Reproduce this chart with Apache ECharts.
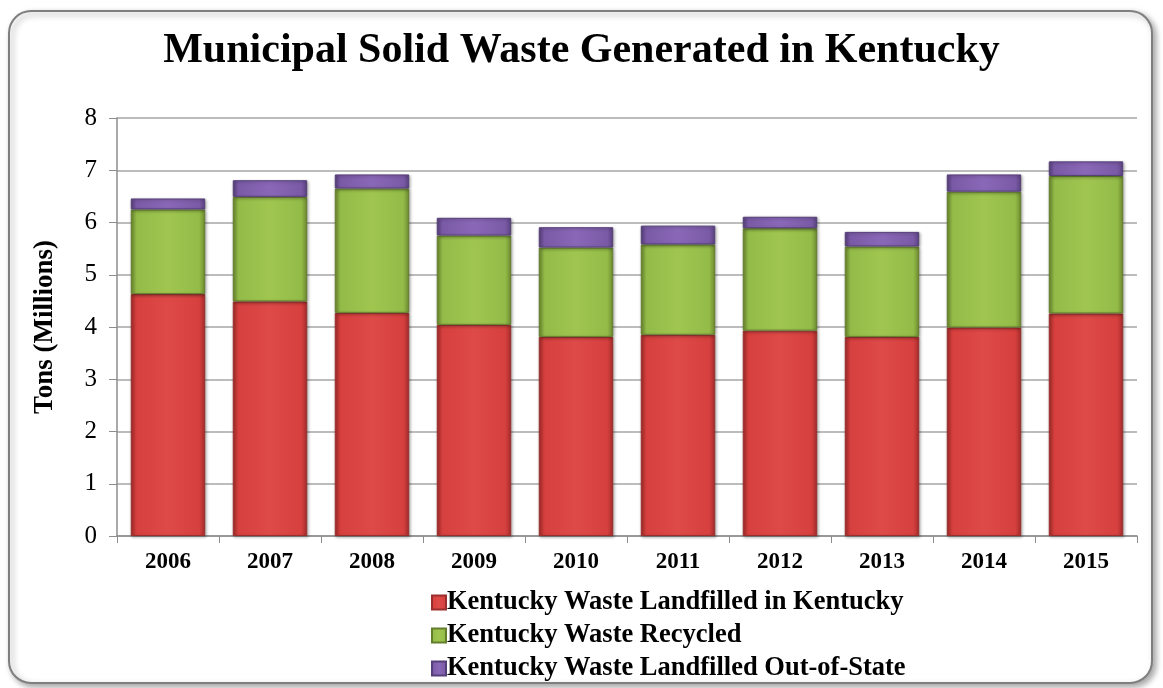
<!DOCTYPE html>
<html>
<head>
<meta charset="utf-8">
<script src="https://cdn.jsdelivr.net/npm/echarts@6/dist/echarts.min.js"></script>
<style>
html,body{margin:0;padding:0;background:#fff;}
#chart{width:1163px;height:688px;}
</style>
</head>
<body>
<div id="chart"></div>
<script>
const categories = ['2006','2007','2008','2009','2010','2011','2012','2013','2014','2015'];
const landfilledKY = [4.63, 4.49, 4.27, 4.04, 3.81, 3.85, 3.93, 3.81, 3.99, 4.26];
const recycled     = [1.62, 2.00, 2.38, 1.71, 1.71, 1.73, 1.96, 1.73, 2.60, 2.63];
const outOfState   = [0.21, 0.32, 0.27, 0.34, 0.39, 0.36, 0.22, 0.28, 0.33, 0.28];
const yTicks = [0,1,2,3,4,5,6,7,8];

const serif = '"Liberation Serif","DejaVu Serif",serif';

function bevel(light, mid, dark){
  return {
    type:'linear', x:0, y:0, x2:1, y2:0,
    colorStops:[
      {offset:0, color:dark},
      {offset:0.08, color:mid},
      {offset:0.5, color:light},
      {offset:0.92, color:mid},
      {offset:1, color:dark}
    ]
  };
}

const chart = echarts.init(document.getElementById('chart'));
const option = {
  animation:false,
  graphic:[{
    type:'rect',
    shape:{x:9, y:11, width:1143, height:672, r:22},
    style:{fill:'#fff', stroke:'#7f7f7f', lineWidth:2,
      shadowBlur:6, shadowOffsetX:3, shadowOffsetY:3, shadowColor:'rgba(0,0,0,0.35)'},
    z:-10
  }],
  title:{
    text:'Municipal Solid Waste Generated in Kentucky',
    left:'center', top:25,
    textStyle:{fontFamily:serif, fontWeight:'bold', fontSize:42, color:'#000'}
  },
  legend:{
    orient:'vertical', left:426, top:584,
    itemWidth:14, itemHeight:14, itemGap:6,
    icon:'rect',
    textStyle:{fontFamily:serif, fontWeight:'bold', fontSize:26.5, color:'#000', padding:[0,0,0,-4]},
    data:['Kentucky Waste Landfilled in Kentucky','Kentucky Waste Recycled','Kentucky Waste Landfilled Out-of-State']
  },
  grid:{left:117, right:26, top:118, bottom:152},
  xAxis:{
    type:'category', data:categories,
    axisLine:{lineStyle:{color:'#8c8c8c', width:1.5}},
    axisTick:{show:true, length:7, alignWithLabel:false, lineStyle:{color:'#8c8c8c'}},
    axisLabel:{fontFamily:serif, fontWeight:'bold', fontSize:23, color:'#000', margin:15}
  },
  yAxis:{
    type:'value', min:yTicks[0], max:yTicks[yTicks.length-1], interval:1,
    name:'Tons (Millions)', nameLocation:'middle', nameGap:58,
    nameTextStyle:{fontFamily:serif, fontWeight:'bold', fontSize:27, color:'#000'},
    axisLine:{show:true, lineStyle:{color:'#8c8c8c', width:1.5}},
    axisTick:{show:true, length:8, lineStyle:{color:'#8c8c8c'}},
    axisLabel:{fontFamily:serif, fontSize:25, color:'#000', margin:20},
    splitLine:{lineStyle:{color:'#a6a6a6', width:1.5}}
  },
  series:[
    {name:'Kentucky Waste Landfilled in Kentucky', type:'bar', stack:'t', data:landfilledKY,
     barWidth:'73%',
     itemStyle:{color:bevel('#de4a48','#d6403e','#a52d2b'), borderColor:'#9a2e2c', borderWidth:1,
       shadowBlur:3, shadowColor:'rgba(0,0,0,0.3)', shadowOffsetX:1, shadowOffsetY:1}},
    {name:'Kentucky Waste Recycled', type:'bar', stack:'t', data:recycled,
     itemStyle:{color:bevel('#a0c650','#93bb48','#6d8a30'), borderColor:'#647f2c', borderWidth:1,
       shadowBlur:3, shadowColor:'rgba(0,0,0,0.3)', shadowOffsetX:1, shadowOffsetY:1}},
    {name:'Kentucky Waste Landfilled Out-of-State', type:'bar', stack:'t', data:outOfState,
     itemStyle:{color:bevel('#8a68b8','#7a5aa6','#5a4280'), borderColor:'#553f78', borderWidth:1,
       shadowBlur:3, shadowColor:'rgba(0,0,0,0.3)', shadowOffsetX:1, shadowOffsetY:1}}
  ]
};
chart.setOption(option);
</script>
</body>
</html>
